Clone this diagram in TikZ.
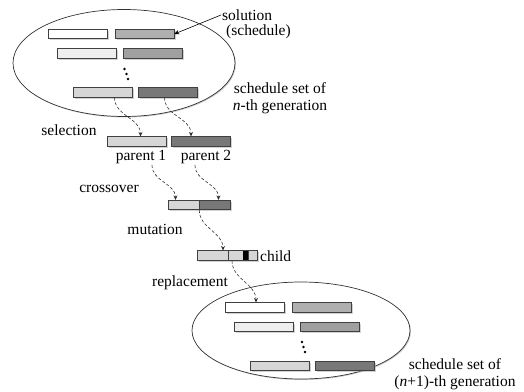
\documentclass[tikz,border=0pt]{standalone}
\usepackage{fontspec}
\setmainfont{Liberation Serif}
\usetikzlibrary{shapes.geometric,shadows,arrows.meta}

\definecolor{barwhite}{HTML}{FFFFFF}
\definecolor{barpale}{HTML}{EEEEEE}
\definecolor{barlight}{HTML}{D6D6D6}
\definecolor{barmid}{HTML}{AFAFAF}
\definecolor{barmidd}{HTML}{A0A0A0}
\definecolor{bardark}{HTML}{787878}

\tikzset{
    bar/.style={rectangle, draw=black!75, line width=0.6pt, inner sep=0pt,
        minimum width=59pt, minimum height=9.5pt,
        drop shadow={shadow xshift=1.5pt, shadow yshift=-1.5pt, fill=black!35}},
    pool/.style={ellipse, draw=black!80, line width=0.7pt, fill=white, inner sep=0pt,
        drop shadow={shadow xshift=1pt, shadow yshift=-1pt, fill=black!40}},
    lbl/.style={font=\fontsize{15.5}{17}\selectfont, inner sep=1pt},
    flow/.style={densely dashed, line width=0.6pt, black!80, -{Stealth[length=4.5pt,width=4pt]}},
}

\begin{document}
\begin{tikzpicture}[x=1pt, y=-1pt]
    \useasboundingbox (0,0) rectangle (524,391);

    % Population of n-th generation
    \node[pool, minimum width=222pt, minimum height=107pt] (gen1) at (124,63) {};
    \node[bar, fill=barwhite] (r1a) at (77.5,34) {};
    \node[bar, fill=barmid] (r1b) at (144.5,34) {};
    \node[bar, fill=barpale] (r2a) at (87,53.5) {};
    \node[bar, fill=barmidd] (r2b) at (153,53.5) {};
    \node[bar, fill=barlight] (r3a) at (102.5,92.5) {};
    \node[bar, fill=bardark] (r3b) at (167.5,92.5) {};
    \fill (124.5,69) circle (1.3pt) (126.5,74) circle (1.3pt) (128,79) circle (1.3pt);

    % Labels of the top set
    \node[lbl, anchor=west] (sol) at (221,15) {solution};
    \node[lbl, anchor=west] (sched) at (225,32) {(schedule)};
    \node[lbl, align=center] (set1) at (280,98) {schedule set of\\\textit{n}-th generation};
    \draw[line width=0.6pt, -{Stealth[length=5pt,width=4.5pt]}] (sol.west) -- (r1b.east);

    % Selection
    \node[lbl] (sel) at (69,130) {selection};
    \node[bar, fill=barlight] (par1) at (136.5,141.5) {};
    \node[bar, fill=bardark] (par2) at (201,141.5) {};
    \node[lbl] (p1txt) at (141,157) {parent 1};
    \node[lbl] (p2txt) at (206,157) {parent 2};
    \draw[flow] ([xshift=12pt]r3a.south) to[out=-90, in=90] ([xshift=4pt]par1.north);
    \draw[flow] ([xshift=-3pt]r3b.south) to[out=-90, in=90] ([xshift=-10pt]par2.north);

    % Crossover
    \node[lbl] (cross) at (109,189) {crossover};
    \node[bar, fill=barlight, minimum width=31pt] (cx1) at (183.5,205) {};
    \node[bar, fill=bardark, minimum width=31pt] (cx2) at (214.5,205) {};
    \draw[flow] ([xshift=11pt]p1txt.south) to[out=-90, in=90] ([xshift=-8pt]cx1.north);
    \draw[flow] ([xshift=-11pt]p2txt.south) to[out=-90, in=90] ([xshift=4pt]cx2.north);

    % Mutation
    \node[lbl] (mut) at (155,229) {mutation};
    \node[bar, fill=barlight, minimum width=60pt] (child) at (227,255.5) {};
    \fill[black] (243,251) rectangle (248.5,260);
    \draw[black!75, line width=0.6pt] (228,251) -- (228,260) (248.5,251) -- (248.5,260);
    \node[lbl, anchor=west] (ctxt) at (259,256) {child};
    \draw[flow] (cx1.south east) to[out=-90, in=90] ([xshift=-4pt]child.north);

    % Replacement and population of (n+1)-th generation
    \node[lbl] (repl) at (190,283) {replacement};
    \node[pool, minimum width=218pt, minimum height=97pt] (gen2) at (301,330.5) {};
    \node[bar, fill=barwhite] (b1a) at (254.5,307.5) {};
    \node[bar, fill=barmid] (b1b) at (322,307.5) {};
    \node[bar, fill=barpale] (b2a) at (263.5,327) {};
    \node[bar, fill=barmidd] (b2b) at (330,327) {};
    \node[bar, fill=barlight] (b3a) at (280,366) {};
    \node[bar, fill=bardark] (b3b) at (345,366) {};
    \fill (302,342) circle (1.3pt) (303.5,347) circle (1.3pt) (305,352) circle (1.3pt);
    \node[lbl, align=center] (set2) at (455,374) {schedule set of\\(\textit{n}+1)-th generation};
    \draw[flow] ([xshift=5pt]child.south) to[out=-90, in=90] ([xshift=1.5pt]b1a.north);
\end{tikzpicture}
\end{document}
